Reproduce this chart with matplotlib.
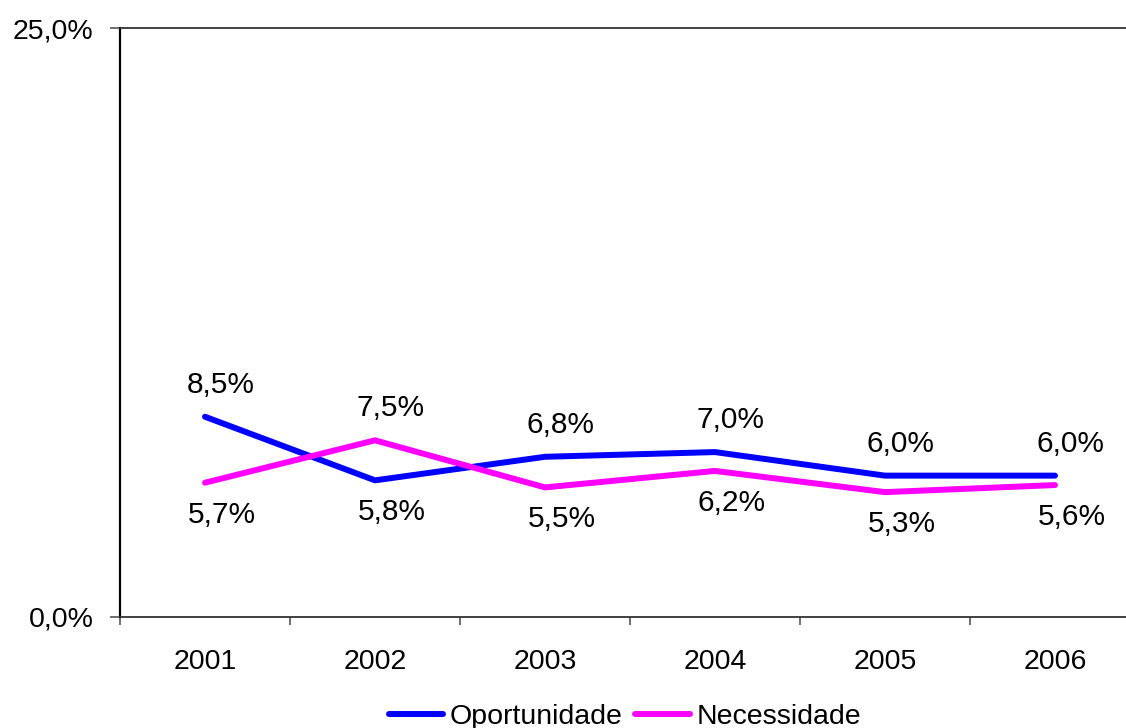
import matplotlib
matplotlib.use("Agg")
import matplotlib.pyplot as plt

years = ["2001", "2002", "2003", "2004", "2005", "2006"]
oportunidade = [8.5, 5.8, 6.8, 7.0, 6.0, 6.0]
necessidade = [5.7, 7.5, 5.5, 6.2, 5.3, 5.6]
y_ticks = [0.0, 25.0]

plt.rcParams['font.family'] = ['Liberation Sans', 'DejaVu Sans']
FS = 20.5
FS_LBL = 21.5

W, H = 1126, 728
fig = plt.figure(figsize=(W / 100, H / 100), dpi=100)
ax = fig.add_axes([120 / W, 111 / H, 1020 / W, 589 / H])

x = list(range(len(years)))
ax.plot(x, oportunidade, color="#0000FF", lw=4.3, solid_capstyle="round", label="Oportunidade")
ax.plot(x, necessidade, color="#FF00FF", lw=4.3, solid_capstyle="round", label="Necessidade")

def fmt(v):
    return f"{v:.1f}%".replace(".", ",")

for i in x:
    for v, other in ((oportunidade[i], necessidade[i]), (necessidade[i], oportunidade[i])):
        off = (11, 23) if v >= other else (12, -23)
        ax.annotate(fmt(v), (i, v), xytext=off, textcoords="offset points",
                    ha="center", va="center", fontsize=FS_LBL, color="black")

ax.set_xlim(-0.5, len(years) - 0.5)
ax.set_ylim(0, 25)
ax.set_yticks(y_ticks)
ax.set_yticklabels([fmt(v) for v in y_ticks], fontsize=FS)
ax.set_xticks([i - 0.5 for i in x])
ax.set_xticklabels([])
ax.set_xticks(x, minor=True)
ax.set_xticklabels(years, minor=True, fontsize=FS)
ax.tick_params(axis="x", which="minor", length=0, pad=23)
ax.tick_params(axis="x", which="major", length=6, width=1.2, color="#555555", direction="out")
ax.tick_params(axis="y", length=7, width=1.2, color="#555555", pad=12)

ax.spines["left"].set_color("black")
ax.spines["left"].set_linewidth(1.6)
for s in ("bottom", "top", "right"):
    ax.spines[s].set_color("#333333")
    ax.spines[s].set_linewidth(1.3)

ax.legend(loc="upper center", bbox_to_anchor=(0.495, -0.148), ncol=2, frameon=False,
          fontsize=FS, handlelength=1.9, handletextpad=0.25, columnspacing=0.45,
          borderaxespad=0, borderpad=0)

fig.savefig("out.png", dpi=100)
